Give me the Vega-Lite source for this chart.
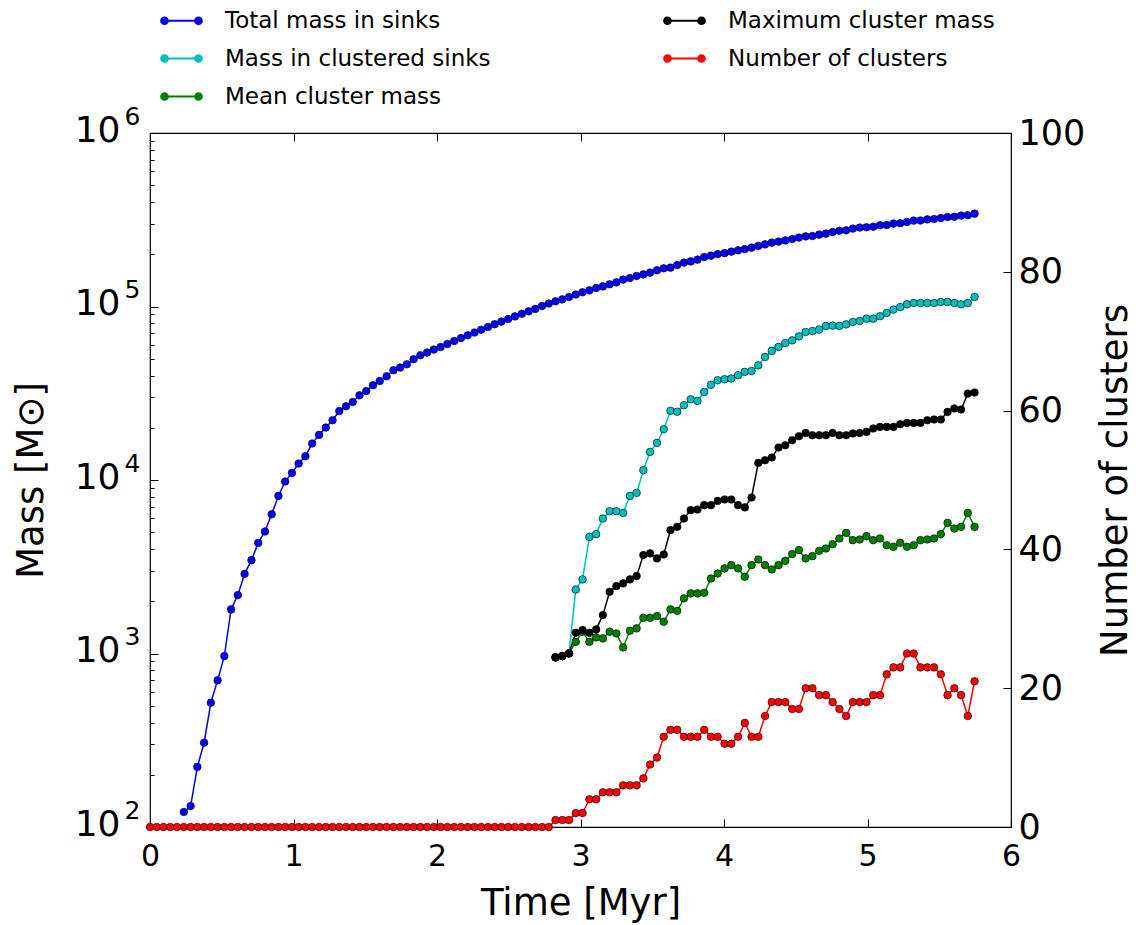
{
  "$schema": "https://vega.github.io/schema/vega-lite/v6.json",
  "width": 861,
  "height": 694,
  "autosize": {"type": "none"},
  "padding": {"left": 150, "top": 133, "right": 125, "bottom": 98},
  "config": {
    "font": "DejaVu Sans",
    "view": {"stroke": "#000000", "strokeWidth": 1.2},
    "axis": {"grid": false, "domain": false, "tickColor": "#000000", "labelColor": "#000000", "titleColor": "#000000", "titleFontWeight": "normal", "labelFont": "DejaVu Sans", "titleFont": "DejaVu Sans", "tickWidth": 1, "labelOverlap": false, "labelFlush": false, "labelBound": false}
  },
  "data": {"values": [
    {"t":0,"n":0},{"t":0.047,"n":0},{"t":0.094,"n":0},{"t":0.141,"n":0},{"t":0.188,"n":0},
    {"t":0.236,"tot":122,"n":0},{"t":0.283,"tot":132,"n":0},{"t":0.330,"tot":222,"n":0},{"t":0.377,"tot":306,"n":0},{"t":0.424,"tot":520,"n":0},
    {"t":0.471,"tot":700,"n":0},{"t":0.518,"tot":966,"n":0},{"t":0.565,"tot":1795,"n":0},{"t":0.612,"tot":2170,"n":0},{"t":0.659,"tot":2877,"n":0},
    {"t":0.707,"tot":3451,"n":0},{"t":0.754,"tot":4342,"n":0},{"t":0.801,"tot":5050,"n":0},{"t":0.848,"tot":6353,"n":0},{"t":0.895,"tot":8095,"n":0},
    {"t":0.942,"tot":9800,"n":0},{"t":0.989,"tot":10990,"n":0},{"t":1.036,"tot":12450,"n":0},{"t":1.083,"tot":13710,"n":0},{"t":1.130,"tot":16230,"n":0},
    {"t":1.178,"tot":18200,"n":0},{"t":1.225,"tot":20060,"n":0},{"t":1.272,"tot":22090,"n":0},{"t":1.319,"tot":25000,"n":0},{"t":1.366,"tot":26610,"n":0},
    {"t":1.413,"tot":28180,"n":0},{"t":1.460,"tot":30760,"n":0},{"t":1.507,"tot":32580,"n":0},{"t":1.554,"tot":35150,"n":0},{"t":1.601,"tot":37220,"n":0},
    {"t":1.649,"tot":39640,"n":0},{"t":1.696,"tot":42900,"n":0},{"t":1.743,"tot":44450,"n":0},{"t":1.790,"tot":46440,"n":0},{"t":1.837,"tot":49640,"n":0},
    {"t":1.884,"tot":52340,"n":0},{"t":1.931,"tot":54250,"n":0},{"t":1.978,"tot":56440,"n":0},{"t":2.025,"tot":58430,"n":0},{"t":2.072,"tot":60810,"n":0},
    {"t":2.120,"tot":63240,"n":0},{"t":2.167,"tot":65770,"n":0},{"t":2.214,"tot":68230,"n":0},{"t":2.261,"tot":70790,"n":0},{"t":2.308,"tot":73450,"n":0},
    {"t":2.355,"tot":76210,"n":0},{"t":2.402,"tot":79070,"n":0},{"t":2.449,"tot":81850,"n":0},{"t":2.496,"tot":84720,"n":0},{"t":2.543,"tot":87700,"n":0},
    {"t":2.591,"tot":90780,"n":0},{"t":2.638,"tot":93760,"n":0},{"t":2.685,"tot":96830,"n":0},{"t":2.732,"tot":100700,"n":0},{"t":2.779,"tot":104000,"n":0},
    {"t":2.826,"tot":107200,"clu":950,"mea":950,"mx":950,"n":1},
    {"t":2.873,"tot":109900,"clu":966,"mea":966,"mx":966,"n":1},
    {"t":2.920,"tot":113500,"clu":1001,"mea":1001,"mx":1001,"n":1},
    {"t":2.967,"tot":117200,"clu":2340,"mea":1167,"mx":1316,"n":2},
    {"t":3.014,"tot":120800,"clu":2673,"mea":1336,"mx":1364,"n":2},
    {"t":3.062,"tot":123900,"clu":4700,"mea":1167,"mx":1316,"n":4},
    {"t":3.109,"tot":127900,"clu":4875,"mea":1238,"mx":1377,"n":4},
    {"t":3.156,"tot":130600,"clu":6000,"mea":1222,"mx":1665,"n":5},
    {"t":3.203,"tot":134300,"clu":6610,"mea":1334,"mx":2268,"n":5},
    {"t":3.250,"tot":137700,"clu":6610,"mea":1305,"mx":2445,"n":5},
    {"t":3.297,"tot":142900,"clu":6460,"mea":1084,"mx":2535,"n":6},
    {"t":3.344,"tot":145900,"clu":8100,"mea":1352,"mx":2673,"n":6},
    {"t":3.391,"tot":150000,"clu":8430,"mea":1395,"mx":2793,"n":6},
    {"t":3.438,"tot":153100,"clu":11380,"mea":1606,"mx":3690,"n":7},
    {"t":3.485,"tot":156700,"clu":14520,"mea":1606,"mx":3775,"n":9},
    {"t":3.533,"tot":161800,"clu":16370,"mea":1642,"mx":3532,"n":10},
    {"t":3.580,"tot":166000,"clu":19620,"mea":1524,"mx":3722,"n":13},
    {"t":3.627,"tot":167500,"clu":25070,"mea":1795,"mx":5140,"n":14},
    {"t":3.674,"tot":173400,"clu":24740,"mea":1762,"mx":5370,"n":14},
    {"t":3.721,"tot":179100,"clu":26980,"mea":2077,"mx":6000,"n":13},
    {"t":3.768,"tot":182000,"clu":29190,"mea":2220,"mx":6700,"n":13},
    {"t":3.815,"tot":186200,"clu":28560,"mea":2220,"mx":6760,"n":13},
    {"t":3.862,"tot":192800,"clu":32150,"mea":2238,"mx":7160,"n":14},
    {"t":3.909,"tot":196300,"clu":35400,"mea":2706,"mx":7160,"n":13},
    {"t":3.956,"tot":200400,"clu":37580,"mea":2893,"mx":7580,"n":13},
    {"t":4.004,"tot":203200,"clu":38100,"mea":3093,"mx":7720,"n":12},
    {"t":4.051,"tot":207000,"clu":38460,"mea":3230,"mx":7720,"n":12},
    {"t":4.098,"tot":210900,"clu":40180,"mea":3093,"mx":7160,"n":13},
    {"t":4.145,"tot":214300,"clu":41980,"mea":2767,"mx":6950,"n":15},
    {"t":4.192,"tot":218300,"clu":42500,"mea":3230,"mx":7930,"n":13},
    {"t":4.239,"tot":223400,"clu":45800,"mea":3484,"mx":12550,"n":13},
    {"t":4.286,"tot":228000,"clu":51170,"mea":3230,"mx":13000,"n":16},
    {"t":4.333,"tot":233300,"clu":55460,"mea":3050,"mx":13490,"n":18},
    {"t":4.380,"tot":236600,"clu":58480,"mea":3230,"mx":15390,"n":18},
    {"t":4.427,"tot":240400,"clu":61660,"mea":3420,"mx":15850,"n":18},
    {"t":4.475,"tot":244900,"clu":63830,"mea":3740,"mx":16940,"n":17},
    {"t":4.522,"tot":249500,"clu":67300,"mea":3945,"mx":17870,"n":17},
    {"t":4.569,"tot":253500,"clu":71290,"mea":3532,"mx":18670,"n":20},
    {"t":4.616,"tot":254700,"clu":72270,"mea":3640,"mx":18120,"n":20},
    {"t":4.663,"tot":259400,"clu":73620,"mea":3907,"mx":18120,"n":19},
    {"t":4.710,"tot":263000,"clu":77270,"mea":4030,"mx":18120,"n":19},
    {"t":4.757,"tot":268500,"clu":77620,"mea":4266,"mx":18670,"n":18},
    {"t":4.804,"tot":273500,"clu":77270,"mea":4603,"mx":18120,"n":17},
    {"t":4.851,"tot":274800,"clu":78890,"mea":4955,"mx":18120,"n":16},
    {"t":4.898,"tot":281200,"clu":81470,"mea":4500,"mx":18530,"n":18},
    {"t":4.946,"tot":285100,"clu":82420,"mea":4540,"mx":18670,"n":18},
    {"t":4.993,"tot":286400,"clu":85110,"mea":4745,"mx":18930,"n":18},
    {"t":5.040,"tot":288400,"clu":85110,"mea":4500,"mx":19800,"n":19},
    {"t":5.087,"tot":293800,"clu":87900,"mea":4603,"mx":20230,"n":19},
    {"t":5.134,"tot":295100,"clu":91830,"mea":4210,"mx":20230,"n":22},
    {"t":5.181,"tot":300600,"clu":95940,"mea":4120,"mx":20230,"n":23},
    {"t":5.228,"tot":302000,"clu":99310,"mea":4345,"mx":20960,"n":23},
    {"t":5.275,"tot":306900,"clu":103000,"mea":4120,"mx":21330,"n":25},
    {"t":5.322,"tot":312600,"clu":104700,"mea":4210,"mx":21330,"n":25},
    {"t":5.369,"tot":313300,"clu":104700,"mea":4500,"mx":21330,"n":23},
    {"t":5.417,"tot":317700,"clu":104700,"mea":4540,"mx":22090,"n":23},
    {"t":5.464,"tot":319200,"clu":104700,"mea":4603,"mx":22320,"n":23},
    {"t":5.511,"tot":323600,"clu":106200,"mea":4875,"mx":22320,"n":22},
    {"t":5.558,"tot":328100,"clu":106200,"mea":5660,"mx":24680,"n":19},
    {"t":5.605,"tot":328900,"clu":104700,"mea":5255,"mx":25820,"n":20},
    {"t":5.652,"tot":334200,"clu":103000,"mea":5370,"mx":25470,"n":19},
    {"t":5.699,"tot":335700,"clu":104700,"mea":6460,"mx":31480,"n":16},
    {"t":5.746,"tot":342800,"clu":113500,"mea":5370,"mx":31920,"n":21}
  ]},
  "transform": [
    {"fold": ["tot", "clu", "mea", "mx", "n"], "as": ["s", "v"]},
    {"filter": "isValid(datum.v)"}
  ],
  "encoding": {
    "color": {
      "field": "s", "type": "nominal",
      "scale": {"domain": ["tot", "clu", "mea", "mx", "n"], "range": ["#0000ff", "#00bfbf", "#008000", "#000000", "#ff0000"]},
      "legend": {
        "title": null, "orient": "none", "legendX": 20, "legendY": -124, "columns": 2, "columnPadding": 168, "rowPadding": 14, "padding": 0,
        "labelFontSize": 23, "labelFont": "DejaVu Sans", "labelColor": "#000000", "labelLimit": 600, "labelOffset": 32,
        "symbolType": "M-2,0L2,0M-1.29,0A0.33,0.33,0,1,1,-1.95,0A0.33,0.33,0,1,1,-1.29,0ZM1.95,0A0.33,0.33,0,1,1,1.29,0A0.33,0.33,0,1,1,1.95,0Z",
        "symbolSize": 441, "symbolStrokeWidth": 1.8,
        "labelExpr": "datum.value == 'tot' ? 'Total mass in sinks' : datum.value == 'clu' ? 'Mass in clustered sinks' : datum.value == 'mea' ? 'Mean cluster mass' : datum.value == 'mx' ? 'Maximum cluster mass' : 'Number of clusters'",
        "encode": {"symbols": {"update": {"fill": {"scale": "color", "field": "value"}, "stroke": {"scale": "color", "field": "value"}, "fillOpacity": {"value": 1}, "strokeOpacity": {"value": 1}}}}
      }
    }
  },
  "layer": [
    {
      "transform": [{"filter": "datum.s != 'n'"}],
      "layer": [
        {
          "transform": [{"filter": "datum.s == 'tot'"}],
          "mark": {"type": "line", "strokeWidth": 1.5},
          "encoding": {
            "x": {"field": "t", "type": "quantitative", "scale": {"domain": [0, 6], "nice": false, "zero": true},
              "axis": {"orient": "bottom", "values": [0, 1, 2, 3, 4, 5, 6], "format": "d", "tickSize": -8, "labelPadding": 22, "labelFontSize": 30, "title": "Time [Myr]", "titleFontSize": 37, "titlePadding": 14}},
            "y": {"field": "v", "type": "quantitative", "scale": {"type": "log", "domain": [100, 1000000], "nice": false},
              "axis": {"orient": "left", "values": [100, 1000, 10000, 100000, 1000000], "tickSize": -8, "labelExpr": "'10'", "labelFontSize": 36, "labelPadding": 38, "labelOffset": -3, "title": "Mass [M⊙]", "titleFontSize": 37, "titlePadding": 24}}
          }
        },
        {
          "transform": [{"filter": "datum.s != 'tot'"}],
          "mark": {"type": "line", "strokeWidth": 1.5},
          "encoding": {
            "x": {"field": "t", "type": "quantitative", "scale": {"domain": [0, 6], "nice": false, "zero": true}, "axis": null},
            "y": {"field": "v", "type": "quantitative", "scale": {"type": "log", "domain": [100, 1000000], "nice": false},
              "axis": {"orient": "left", "values": [100, 1000, 10000, 100000, 1000000], "ticks": false, "labelExpr": "'' + round(log(datum.value) / LN10)", "labelFontSize": 25, "labelPadding": 10, "labelOffset": -17, "title": null}}
          }
        },
        {
          "mark": {"type": "point", "filled": true, "size": 58, "stroke": "#000000", "strokeWidth": 0.6, "opacity": 1},
          "encoding": {
            "x": {"field": "t", "type": "quantitative", "scale": {"domain": [0, 6], "nice": false, "zero": true},
              "axis": {"orient": "top", "values": [0, 1, 2, 3, 4, 5, 6], "tickSize": -8, "labels": false, "title": null}},
            "y": {"field": "v", "type": "quantitative", "scale": {"type": "log", "domain": [100, 1000000], "nice": false},
              "axis": {"orient": "left", "values": [200, 300, 400, 500, 600, 700, 800, 900, 2000, 3000, 4000, 5000, 6000, 7000, 8000, 9000, 20000, 30000, 40000, 50000, 60000, 70000, 80000, 90000, 200000, 300000, 400000, 500000, 600000, 700000, 800000, 900000], "tickSize": -4, "labels": false, "title": null}},
            "order": {"field": "s", "type": "nominal"}
          }
        }
      ],
      "resolve": {"axis": {"x": "independent", "y": "independent"}}
    },
    {
      "transform": [{"filter": "datum.s == 'n'"}],
      "mark": {"type": "line", "strokeWidth": 1.5, "point": {"filled": true, "size": 58, "stroke": "#000000", "strokeWidth": 0.6, "opacity": 1}},
      "encoding": {
        "x": {"field": "t", "type": "quantitative", "scale": {"domain": [0, 6], "nice": false, "zero": true}, "axis": null},
        "y": {"field": "v", "type": "quantitative", "scale": {"domain": [0, 100], "nice": false, "zero": true},
          "axis": {"orient": "right", "values": [0, 20, 40, 60, 80, 100], "tickSize": -8, "labelFontSize": 35, "labelPadding": 15, "title": "Number of clusters", "titleFontSize": 37, "titleAngle": 270, "titlePadding": 50}}
      }
    }
  ],
  "resolve": {"scale": {"y": "independent"}}
}
